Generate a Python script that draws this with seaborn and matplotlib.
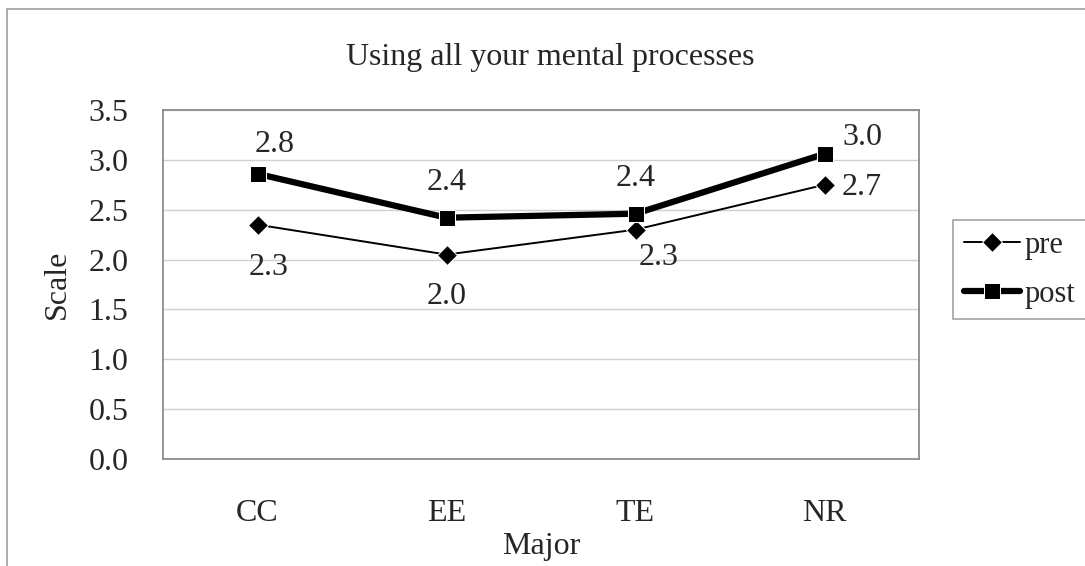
import pandas as pd
import seaborn as sns
import matplotlib.pyplot as plt
from matplotlib.patches import Rectangle

################################
#         Chart data           #
################################

majors = ['CC', 'EE', 'TE', 'NR']
pre_scores = [2.35, 2.05, 2.30, 2.75]
post_scores = [2.86, 2.42, 2.46, 3.06]
pre_labels = ['2.3', '2.0', '2.3', '2.7']
post_labels = ['2.8', '2.4', '2.4', '3.0']
y_ticks = [0.0, 0.5, 1.0, 1.5, 2.0, 2.5, 3.0, 3.5]

################################
#         Figure setup         #
################################

sns.set_style('white')
plt.rcParams['font.family'] = ['Liberation Serif', 'DejaVu Serif']
fs = 23

df = pd.DataFrame({'Major': majors * 2,
                   'Scale': pre_scores + post_scores,
                   'series': ['pre'] * 4 + ['post'] * 4})

fig = plt.figure(figsize=(10.85, 5.66), dpi=100)
ax = fig.add_axes([163/1085, 1 - 459/566, (919-163)/1085, (459-110)/566])

# thin diamond line for pre, thick square line for post
sns.lineplot(ax=ax, data=df[df['series'] == 'pre'], x='Major', y='Scale',
             color='black', lw=1.4, marker='D', markersize=10, label='pre')
sns.lineplot(ax=ax, data=df[df['series'] == 'post'], x='Major', y='Scale',
             color='black', lw=4.5, marker='s', markersize=11, label='post')

# value labels next to the markers (offsets in points)
pre_off = [(8, -31), (0, -30), (17, -20), (27, -2)]
post_off = [(12, 21), (0, 25), (0, 25), (27, 12)]
for i in range(4):
    ax.annotate(pre_labels[i], (i, pre_scores[i]), xytext=pre_off[i],
                textcoords='offset points', ha='center', va='center', fontsize=fs)
    ax.annotate(post_labels[i], (i, post_scores[i]), xytext=post_off[i],
                textcoords='offset points', ha='center', va='center', fontsize=fs)

ax.set_xlim(-0.5, 3.5)
ax.set_ylim(0, 3.5)
ax.set_yticks(y_ticks)
ax.set_yticklabels(['%.1f' % v for v in y_ticks])
ax.set_xticks(range(4))
ax.set_xticklabels(majors)
ax.set_xticks([0.5, 1.5, 2.5], minor=True)
ax.tick_params(axis='x', which='major', length=0, pad=29, labelsize=fs)
ax.tick_params(axis='x', which='minor', direction='in', length=7, width=1, color='#909090')
ax.tick_params(axis='y', length=0, pad=25, labelsize=fs)

ax.grid(axis='y', color='#d0d0d0', lw=1)
ax.set_axisbelow(True)
for sp in ax.spines.values():
    sp.set_color('#8c8c8c')
    sp.set_linewidth(1.3)

ax.set_xlabel('Major', fontsize=fs, labelpad=3)
ax.set_ylabel('Scale', fontsize=fs, labelpad=12)
fig.text(550/1085, 1 - 57/566, 'Using all your mental processes', fontsize=fs,
         ha='center', va='center')

leg = ax.legend(loc='upper left', bbox_to_anchor=(953/1085, 1 - 220/566),
                bbox_transform=fig.transFigure, borderaxespad=0, fontsize=22,
                frameon=True, fancybox=False, handlelength=1.85, handletextpad=0.15,
                labelspacing=0.65, borderpad=0.35)
leg.get_frame().set_edgecolor('#8c8c8c')
leg.get_frame().set_linewidth(1.2)

# outer chart border
fig.patches.append(Rectangle((7/1085, -0.1), 2, 1 - 9/566 + 0.1, transform=fig.transFigure,
                             fill=False, edgecolor='#a0a0a0', lw=1.2))

fig.savefig('out.png', dpi=100)
